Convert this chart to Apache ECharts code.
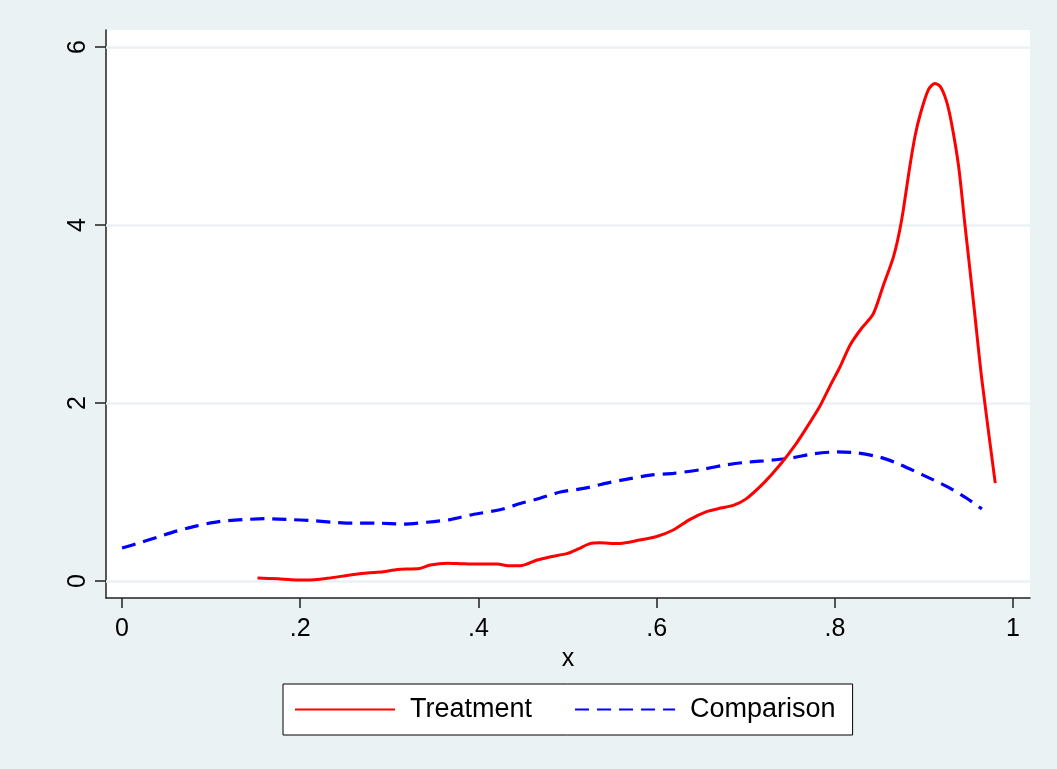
<!DOCTYPE html>
<html>
<head>
<meta charset="utf-8">
<script src="https://cdn.jsdelivr.net/npm/echarts@6/dist/echarts.min.js"></script>
<style>
  html, body { margin: 0; padding: 0; background: #EAF2F3; }
  #chart { width: 1057px; height: 769px; }
</style>
</head>
<body>
<div id="chart"></div>
<script>
// Kernel density estimates of the propensity score, by group
const treatmentX = [0.152,0.175,0.19,0.208,0.23,0.256,0.275,0.293,0.309,0.334,0.346,0.365,0.38,0.398,0.421,0.435,0.447,0.466,0.48,0.5,0.512,0.525,0.536,0.556,0.581,0.6,0.618,0.637,0.656,0.672,0.686,0.7,0.72,0.738,0.757,0.77,0.783,0.795,0.806,0.817,0.83,0.843,0.854,0.866,0.875,0.884,0.89,0.896,0.905,0.912,0.918,0.925,0.931,0.939,0.946,0.952,0.957,0.965,0.98];
const treatmentY = [0.034,0.025,0.015,0.01,0.03,0.067,0.09,0.105,0.13,0.14,0.18,0.2,0.195,0.19,0.19,0.17,0.17,0.236,0.27,0.31,0.36,0.42,0.43,0.42,0.46,0.5,0.57,0.69,0.78,0.82,0.85,0.92,1.1,1.3,1.55,1.75,1.96,2.2,2.41,2.65,2.84,3.0,3.31,3.65,4.06,4.65,5.0,5.25,5.52,5.59,5.56,5.4,5.14,4.65,4.0,3.46,3.0,2.26,1.1];

const comparisonX = [0,0.02,0.039,0.061,0.084,0.11,0.136,0.162,0.189,0.211,0.237,0.26,0.286,0.316,0.342,0.368,0.395,0.424,0.447,0.469,0.492,0.518,0.544,0.57,0.593,0.619,0.649,0.675,0.697,0.72,0.75,0.776,0.802,0.825,0.851,0.873,0.899,0.926,0.948,0.965];
const comparisonY = [0.37,0.43,0.49,0.56,0.62,0.67,0.69,0.70,0.69,0.68,0.66,0.65,0.65,0.64,0.66,0.69,0.75,0.8,0.87,0.93,1.0,1.04,1.1,1.15,1.19,1.21,1.25,1.30,1.33,1.35,1.38,1.43,1.45,1.44,1.39,1.31,1.19,1.06,0.93,0.81];

const xTicks = [0, 0.2, 0.4, 0.6, 0.8, 1];
const xTickLabels = ['0', '.2', '.4', '.6', '.8', '1'];
const yTicks = [0, 2, 4, 6];
const yTickLabels = ['0', '2', '4', '6'];

const seriesNames = ['Treatment', 'Comparison'];

const zip = (xs, ys) => xs.map((x, i) => [x, ys[i]]);
const labelFor = (ticks, labels) => v => {
  const i = ticks.findIndex(t => Math.abs(t - v) < 1e-9);
  return i >= 0 ? labels[i] : '';
};

const FONT = '"Liberation Sans", Arial, sans-serif';
const AXIS_COLOR = '#222';
const BG = '#EAF2F3';
const NO_MARKER = 'rgba(0,0,0,0)';

const chart = echarts.init(document.getElementById('chart'), null, { renderer: 'canvas' });

chart.setOption({
  backgroundColor: BG,
  animation: false,
  grid: {
    left: 106, right: 27, top: 30, bottom: 171,
    show: true, backgroundColor: '#ffffff', borderWidth: 0
  },
  xAxis: {
    type: 'value',
    min: -0.018, max: 1.019,
    name: 'x',
    nameLocation: 'middle',
    nameGap: 48,
    nameTextStyle: { fontFamily: FONT, fontSize: 25, color: '#000' },
    axisLine: { show: true, onZero: false, lineStyle: { color: AXIS_COLOR, width: 1.5 } },
    axisTick: { show: true, length: 10, customValues: xTicks, lineStyle: { color: AXIS_COLOR, width: 1.5 } },
    axisLabel: {
      customValues: xTicks, formatter: labelFor(xTicks, xTickLabels),
      fontFamily: FONT, fontSize: 25, color: '#000', margin: 19
    },
    splitLine: { show: false }
  },
  yAxis: {
    type: 'value',
    min: -0.191, max: 6.191,
    axisLine: { show: true, onZero: false, lineStyle: { color: AXIS_COLOR, width: 1.5 } },
    axisTick: { show: true, length: 11, customValues: yTicks, lineStyle: { color: AXIS_COLOR, width: 1.5 } },
    axisLabel: {
      customValues: yTicks, formatter: labelFor(yTicks, yTickLabels),
      rotate: 90, fontFamily: FONT, fontSize: 25, color: '#000', margin: 15
    },
    splitLine: { show: false }
  },
  legend: {
    data: seriesNames,
    left: 283, top: 684,
    orient: 'horizontal',
    backgroundColor: '#ffffff',
    borderColor: '#000', borderWidth: 1,
    borderRadius: 0,
    padding: [12, 17, 12, 11],
    itemWidth: 100, itemHeight: 14,
    itemGap: 42,
    textStyle: { fontFamily: FONT, fontSize: 27, color: '#000', padding: [0, 0, 0, 10] }
  },
  series: [
    {
      name: 'Comparison',
      type: 'line',
      data: zip(comparisonX, comparisonY),
      symbol: 'none',
      smooth: 0.25,
      z: 3,
      lineStyle: { color: '#0000FF', width: 3.2, type: [14, 8] },
      itemStyle: { color: NO_MARKER },
      markLine: {
        silent: true,
        z: 1,
        symbol: 'none',
        label: { show: false },
        lineStyle: { color: BG, width: 2.5, type: 'solid' },
        data: yTicks.map(v => ({ yAxis: v }))
      }
    },
    {
      name: 'Treatment',
      type: 'line',
      data: zip(treatmentX, treatmentY),
      symbol: 'none',
      smooth: 0.25,
      z: 4,
      lineStyle: { color: '#FF0000', width: 3, type: 'solid' },
      itemStyle: { color: NO_MARKER }
    }
  ]
});
</script>
</body>
</html>
